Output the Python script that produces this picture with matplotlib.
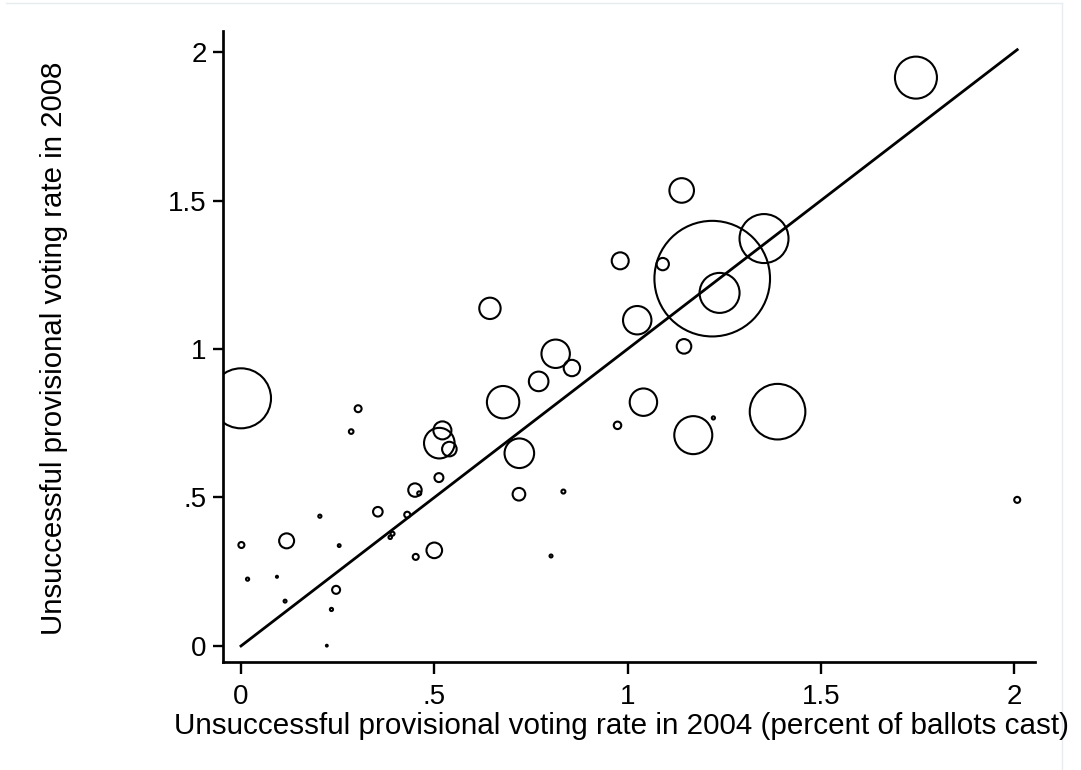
import numpy as np
import matplotlib
matplotlib.use('agg')
import matplotlib.pyplot as plt
from matplotlib.lines import Line2D

plt.rcParams['font.family'] = ['Liberation Sans', 'DejaVu Sans']

# unsuccessful provisional voting rate, 2004 and 2008 (percent of ballots cast)
rate_2004 = [0.000, 1.746, 1.219, 1.353, 1.238, 1.140, 0.981, 1.091, 1.025, 1.146,
             0.644, 0.814, 0.856, 0.770, 0.678, 1.041, 1.388, 1.170, 1.222, 0.974,
             0.720, 0.513, 0.521, 0.539, 0.512, 0.303, 0.285, 0.719, 0.834, 0.802,
             0.500, 0.452, 0.450, 0.461, 0.354, 0.430, 0.392, 0.386, 0.204, 0.254,
             0.001, 0.118, 0.017, 0.093, 0.114, 0.246, 0.234, 0.222, 2.008]
rate_2008 = [0.834, 1.914, 1.237, 1.372, 1.189, 1.534, 1.297, 1.286, 1.097, 1.009,
             1.137, 0.984, 0.936, 0.891, 0.821, 0.821, 0.789, 0.710, 0.768, 0.743,
             0.649, 0.683, 0.726, 0.663, 0.567, 0.799, 0.722, 0.511, 0.520, 0.303,
             0.322, 0.300, 0.525, 0.514, 0.452, 0.442, 0.378, 0.366, 0.437, 0.338,
             0.340, 0.354, 0.225, 0.233, 0.151, 0.189, 0.123, 0.001, 0.492]
# analytic weight (relative number of ballots)
weight = [900, 441, 3341, 600, 400, 151, 72, 38, 202, 53,
          114, 202, 67, 96, 262, 188, 773, 361, 2.5, 14,
          219, 234, 81, 53, 20, 12, 5.3, 40, 4, 2.2,
          61, 9, 45, 4, 23, 9, 4, 3, 2.5, 2,
          9, 56, 2.5, 1, 2.2, 16, 2.5, 0.8, 9]

xticks = [0, 0.5, 1, 1.5, 2]
xticklabels = ['0', '.5', '1', '1.5', '2']
yticks = [0, 0.5, 1, 1.5, 2]
yticklabels = ['0', '.5', '1', '1.5', '2']

W, H = 1081, 770
fig = plt.figure(figsize=(W / 100, H / 100), dpi=100)
ax = fig.add_axes([223.3 / W, 1 - 662 / H, (1035 - 223.3) / W, (662 - 31) / H])

# marker area proportional to weight
w = np.array(weight, dtype=float)
sizes = (2 * np.sqrt(w) * 0.72) ** 2
ax.scatter(rate_2004, rate_2008, s=sizes, facecolors='none', edgecolors='black',
           linewidths=1.5, zorder=3)

# 45 degree line
xmax = max(rate_2004)
ax.plot([0, xmax], [0, xmax], color='black', lw=2.0, zorder=2)

ax.set_xlim(-0.0458, 2.054)
ax.set_ylim(-0.054, 2.071)
ax.set_xticks(xticks)
ax.set_xticklabels(xticklabels)
ax.set_yticks(yticks)
ax.set_yticklabels(yticklabels)
ax.spines['top'].set_visible(False)
ax.spines['right'].set_visible(False)
for s in ['left', 'bottom']:
    ax.spines[s].set_linewidth(1.95)
ax.tick_params(axis='x', length=8.5, width=1.7, pad=7.5, labelsize=20)
ax.tick_params(axis='y', length=7, width=1.7, pad=5, labelsize=20)

fig.text(621 / W, 1 - 734 / H,
         'Unsuccessful provisional voting rate in 2004 (percent of ballots cast)',
         ha='center', va='baseline', fontsize=21.3)
fig.text(54 / W, 1 - 348.5 / H, 'Unsuccessful provisional voting rate in 2008',
         ha='center', va='center', rotation=90, fontsize=21.2)

# faint outer frame (top and right only)
fig.lines.append(Line2D([6 / W, 1062 / W], [1 - 3 / H, 1 - 3 / H],
                        transform=fig.transFigure, color='#e6ecef', lw=1))
fig.lines.append(Line2D([1062 / W, 1062 / W], [0, 1 - 3 / H],
                        transform=fig.transFigure, color='#e6ecef', lw=1))

fig.savefig('out.png', dpi=100)
